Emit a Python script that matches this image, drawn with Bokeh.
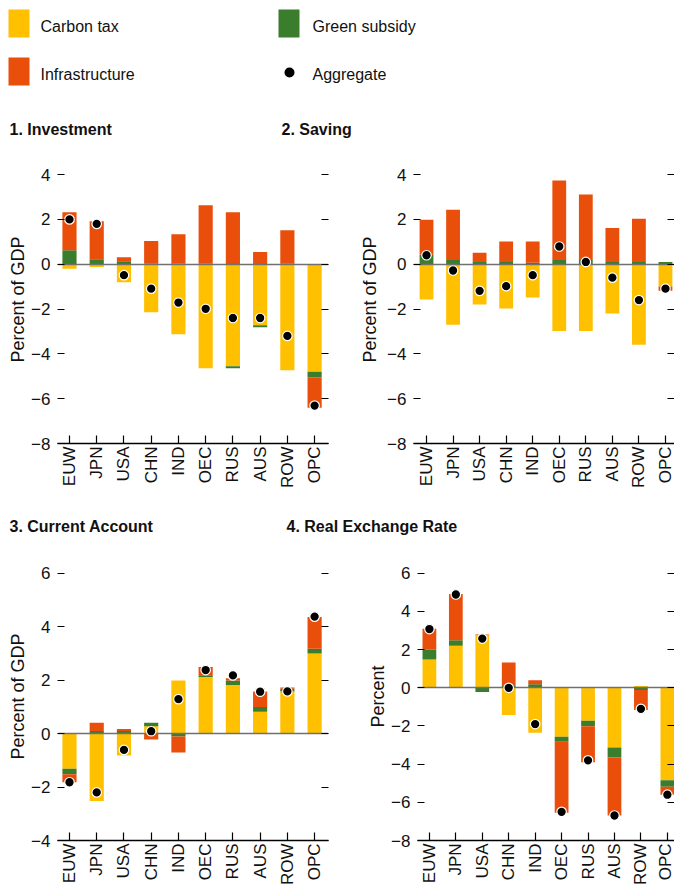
import math
import numpy as np
from bokeh.plotting import figure
from bokeh.layouts import column, row
from bokeh.models import Range1d, FixedTicker, LinearAxis, CustomJSTickFormatter
from bokeh.embed import file_html
from bokeh.resources import INLINE
from bokeh.core.properties import value

FONT = "Liberation Sans"
YELLOW = "#FFC000"
GREEN = "#3A7D2C"
RED = "#E94E0B"
INK = "#111111"

categories = ["EUW", "JPN", "USA", "CHN", "IND", "OEC", "RUS", "AUS", "ROW", "OPC"]

# 1. Investment (percent of GDP)
inv_tax = [-0.2, -0.13, -0.8, -2.14, -3.12, -4.64, -4.55, -2.72, -4.73, -4.8]
inv_green = [0.62, 0.22, 0.13, 0.02, 0.02, 0.02, -0.09, -0.09, 0.02, -0.24]
inv_infra = [1.7, 1.7, 0.18, 1.02, 1.32, 2.61, 2.32, 0.54, 1.5, -1.37]
inv_agg = [2.0, 1.8, -0.49, -1.09, -1.71, -1.99, -2.4, -2.4, -3.2, -6.31]

# 2. Saving (percent of GDP)
sav_tax = [-1.58, -2.7, -1.8, -1.98, -1.49, -2.98, -2.98, -2.2, -3.59, -1.0]
sav_green = [0.42, 0.19, 0.1, 0.1, 0.06, 0.19, 0.19, 0.1, 0.1, 0.1]
sav_infra = [1.56, 2.24, 0.41, 0.91, 0.95, 3.54, 2.92, 1.52, 1.93, -0.18]
sav_agg = [0.4, -0.28, -1.19, -0.98, -0.49, 0.79, 0.1, -0.6, -1.6, -1.09]

# 3. Current account (percent of GDP)
ca_tax = [-1.31, -2.52, -0.82, 0.28, 1.99, 2.12, 1.82, 0.82, 1.58, 3.0]
ca_green = [-0.21, 0.1, 0.1, 0.13, -0.11, 0.07, 0.17, 0.18, 0.1, 0.18]
ca_infra = [-0.3, 0.31, 0.07, -0.22, -0.6, 0.3, 0.08, 0.58, 0.05, 1.19]
ca_agg = [-1.82, -2.2, -0.61, 0.09, 1.29, 2.38, 2.18, 1.57, 1.58, 4.38]

# 4. Real exchange rate (percent)
rer_tax = [1.49, 2.21, 2.75, -1.42, -2.35, -2.56, -1.73, -3.13, 0.09, -4.84]
rer_green = [0.51, 0.28, -0.22, 0.1, 0.19, -0.26, -0.29, -0.52, -0.12, -0.34]
rer_infra = [1.09, 2.42, 0.05, 1.23, 0.21, -3.73, -1.88, -3.04, -1.04, -0.42]
rer_agg = [3.08, 4.89, 2.58, 0.0, -1.9, -6.5, -3.8, -6.69, -1.1, -5.6]

ticks_a = [-8, -6, -4, -2, 0, 2, 4]
ticks_c = [-4, -2, 0, 2, 4, 6]
ticks_d = [-8, -6, -4, -2, 0, 2, 4, 6]

legend_names = ["Carbon tax", "Green subsidy", "Infrastructure", "Aggregate"]
panel_titles = ["1. Investment", "2. Saving", "3. Current Account", "4. Real Exchange Rate"]


def fmt(t):
    return ("\u2212" + str(abs(t))) if t < 0 else str(t)


def panel(tax, green, infra, agg, yticks, ylabel, yr, xr, width, height,
          mbl, mbr, mbt, mbb, label_standoff, xlab_standoff):
    p = figure(width=width, height=height, x_range=Range1d(*xr), y_range=Range1d(*yr),
               output_backend="svg", toolbar_location=None,
               min_border_left=mbl, min_border_right=mbr, min_border_top=mbt, min_border_bottom=mbb,
               background_fill_color="white", border_fill_color="white")
    p.outline_line_color = None
    p.xgrid.visible = False
    p.ygrid.visible = False

    xs = np.arange(len(categories))
    pos_base = np.zeros(len(categories))
    neg_base = np.zeros(len(categories))
    for arr, col in ((np.array(tax), YELLOW), (np.array(green), GREEN), (np.array(infra), RED)):
        pos = np.where(arr > 0, arr, 0.0)
        neg = np.where(arr < 0, arr, 0.0)
        p.vbar(x=xs, bottom=pos_base, top=pos_base + pos, width=0.52, fill_color=col, line_color=None)
        p.vbar(x=xs, bottom=neg_base, top=neg_base + neg, width=0.52, fill_color=col, line_color=None)
        pos_base = pos_base + pos
        neg_base = neg_base + neg

    p.hspan(y=[0], line_color="#707070", line_width=1.5)
    p.scatter(x=xs, y=agg, size=9.5, fill_color="black", line_color="white", line_width=1.2)

    xa = p.xaxis[0]
    xa.ticker = FixedTicker(ticks=list(range(len(categories))))
    xa.major_label_overrides = {i: c for i, c in enumerate(categories)}
    xa.major_label_orientation = math.pi / 2
    xa.major_tick_in = 8
    xa.major_tick_out = 0
    xa.minor_tick_line_color = None
    xa.axis_line_color = "black"
    xa.axis_line_width = 1.5
    xa.major_tick_line_width = 1.2
    xa.major_label_standoff = xlab_standoff
    xa.major_label_text_font = FONT
    xa.major_label_text_font_size = "17px"
    xa.major_label_text_color = INK

    ya = p.yaxis[0]
    ya.ticker = FixedTicker(ticks=yticks)
    ya.major_label_overrides = {t: fmt(t) for t in yticks}
    ya.major_tick_in = 7
    ya.major_tick_out = 0
    ya.minor_tick_line_color = None
    ya.axis_line_color = None
    ya.major_tick_line_width = 1.2
    ya.major_label_standoff = 7
    ya.major_label_text_font = FONT
    ya.major_label_text_font_size = "17px"
    ya.major_label_text_color = INK
    ya.axis_label = ylabel
    ya.axis_label_text_font = FONT
    ya.axis_label_text_font_size = "18px"
    ya.axis_label_text_font_style = "normal"
    ya.axis_label_text_color = INK
    ya.axis_label_standoff = label_standoff

    ra = LinearAxis(ticker=FixedTicker(ticks=yticks),
                    formatter=CustomJSTickFormatter(code="return ''"))
    ra.major_tick_in = 7
    ra.major_tick_out = 0
    ra.minor_tick_line_color = None
    ra.axis_line_color = None
    ra.major_tick_line_width = 1.2
    ra.major_label_standoff = 0
    ra.major_label_text_font_size = "1px"
    p.add_layout(ra, "right")
    return p


def strip(height, y_top):
    s = figure(width=674, height=height, x_range=Range1d(0, 674),
               y_range=Range1d(y_top + height, y_top),
               output_backend="svg", toolbar_location=None, x_axis_type=None, y_axis_type=None,
               min_border=0)
    s.outline_line_color = None
    s.xgrid.visible = False
    s.ygrid.visible = False
    return s


# Top strip: legend + row-1 titles (coordinates in page pixels)
top = strip(145, 0)
top.quad(left=[8, 278, 8], right=[29, 299, 29], top=[9, 9, 57], bottom=[37, 37, 85],
         fill_color=[YELLOW, GREEN, RED], line_color=None)
top.scatter(x=[289], y=[72], size=10, fill_color="black", line_color=None)
top.text(x=[40, 312, 40, 312], y=[26, 26, 74, 74], text=legend_names,
         text_baseline="middle", text_font=value(FONT), text_font_size="16px", text_color=INK)
top.text(x=[9, 281], y=[129, 129], text=panel_titles[:2], text_baseline="middle",
         text_font=value(FONT), text_font_size="16px", text_font_style="bold", text_color=INK)

mid = strip(37, 505)
mid.text(x=[9, 286], y=[526, 526], text=panel_titles[2:], text_baseline="middle",
         text_font=value(FONT), text_font_size="16px", text_font_style="bold", text_color=INK)

p1 = panel(inv_tax, inv_green, inv_infra, inv_agg, ticks_a, "Percent of GDP",
           (-8, 4.85), (-0.44, 9.51), 340, 360, 57, 12, 10, 62, 0, 3)
p2 = panel(sav_tax, sav_green, sav_infra, sav_agg, ticks_a, "Percent of GDP",
           (-8, 4.85), (-0.49, 9.34), 334, 360, 73, 0, 10, 62, 4, 3)
p3 = panel(ca_tax, ca_green, ca_infra, ca_agg, ticks_c, "Percent of GDP",
           (-4, 6.78), (-0.44, 9.51), 340, 346, 57, 12, 10, 45, 0, 3)
p4 = panel(rer_tax, rer_green, rer_infra, rer_agg, ticks_d, "Percent",
           (-8, 7.09), (-0.45, 9.27), 334, 346, 77, 0, 10, 45, 0, 3)

layout = column(top, row(p1, p2, spacing=0), mid, row(p3, p4, spacing=0), spacing=0)

with open("out.html", "w") as f:
    f.write(file_html(layout, INLINE))
